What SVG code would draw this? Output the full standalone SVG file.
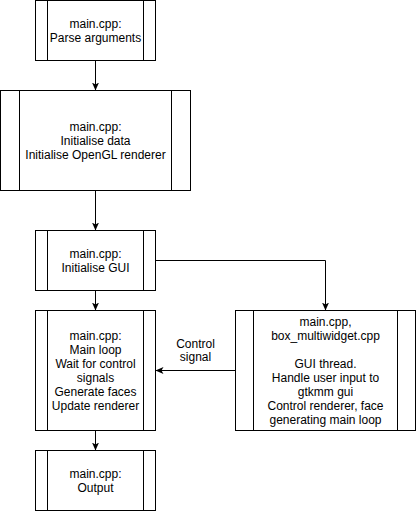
<svg xmlns="http://www.w3.org/2000/svg" width="416" height="511" viewBox="0 0 416 511">
<defs>
<style>
.box{fill:#ffffff;stroke:#000000;stroke-width:1}
.inner{stroke:#000000;stroke-width:1;fill:none}
.edge{fill:none;stroke:#000000;stroke-width:1}
text{font-family:"Liberation Sans",Arial,Helvetica,sans-serif;font-size:12px;fill:#000000;text-anchor:middle}
</style>
<marker id="arrow" markerUnits="userSpaceOnUse" viewBox="0 0 8 7" refX="8" refY="3.5" markerWidth="8" markerHeight="7" orient="auto">
<path d="M0,0 L8,3.5 L0,7 L2,3.5 Z" fill="#000000"/>
</marker>
</defs>
<rect x="0" y="0" width="416" height="511" fill="#ffffff"/>
<g id="connectors">
<path class="edge" d="M95.5,60.5 L95.5,90.5" marker-end="url(#arrow)"/>
<path class="edge" d="M95.5,190.5 L95.5,230.5" marker-end="url(#arrow)"/>
<path class="edge" d="M95.5,290.5 L95.5,310.5" marker-end="url(#arrow)"/>
<path class="edge" d="M95.5,430.5 L95.5,450.5" marker-end="url(#arrow)"/>
<path class="edge" d="M155.5,260.5 L325.5,260.5 L325.5,310.5" marker-end="url(#arrow)"/>
<path class="edge" d="M235.5,370.5 L155.5,370.5" marker-end="url(#arrow)"/>
<g id="label-control-signal">
<text x="195.5" y="347.5">Control</text>
<text x="195.5" y="360.5">signal</text>
</g>
</g>
<g id="node-parse">
<rect class="box" x="35.5" y="0.5" width="120" height="60"/>
<path class="inner" d="M47.5,0.5 L47.5,60.5 M143.5,0.5 L143.5,60.5"/>
<text x="95.5" y="27.5">main.cpp:</text>
<text x="95.5" y="41.5">Parse arguments</text>
</g>
<g id="node-init-data">
<rect class="box" x="0.5" y="90.5" width="190" height="100"/>
<path class="inner" d="M19.5,90.5 L19.5,190.5 M171.5,90.5 L171.5,190.5"/>
<text x="95.5" y="130.5">main.cpp:</text>
<text x="95.5" y="144.5">Initialise data</text>
<text x="95.5" y="158.5">Initialise OpenGL renderer</text>
</g>
<g id="node-init-gui">
<rect class="box" x="35.5" y="230.5" width="120" height="60"/>
<path class="inner" d="M47.5,230.5 L47.5,290.5 M143.5,230.5 L143.5,290.5"/>
<text x="95.5" y="257.5">main.cpp:</text>
<text x="95.5" y="271.5">Initialise GUI</text>
</g>
<g id="node-main-loop">
<rect class="box" x="35.5" y="310.5" width="120" height="120"/>
<path class="inner" d="M47.5,310.5 L47.5,430.5 M143.5,310.5 L143.5,430.5"/>
<text x="95.5" y="339.5">main.cpp:</text>
<text x="95.5" y="353.5">Main loop</text>
<text x="95.5" y="367.5">Wait for control</text>
<text x="95.5" y="381.5">signals</text>
<text x="95.5" y="395.5">Generate faces</text>
<text x="95.5" y="409.5">Update renderer</text>
</g>
<g id="node-gui-thread">
<rect class="box" x="235.5" y="310.5" width="180" height="120"/>
<path class="inner" d="M253.5,310.5 L253.5,430.5 M397.5,310.5 L397.5,430.5"/>
<text x="325.5" y="325.5">main.cpp,</text>
<text x="325.5" y="339.5">box_multiwidget.cpp</text>
<text x="325.5" y="367.5">GUI thread.</text>
<text x="325.5" y="381.5">Handle user input to</text>
<text x="325.5" y="395.5">gtkmm gui</text>
<text x="325.5" y="409.5">Control renderer, face</text>
<text x="325.5" y="423.5">generating main loop</text>
</g>
<g id="node-output">
<rect class="box" x="35.5" y="450.5" width="120" height="60"/>
<path class="inner" d="M47.5,450.5 L47.5,510.5 M143.5,450.5 L143.5,510.5"/>
<text x="95.5" y="477.5">main.cpp:</text>
<text x="95.5" y="491.5">Output</text>
</g>
</svg>
